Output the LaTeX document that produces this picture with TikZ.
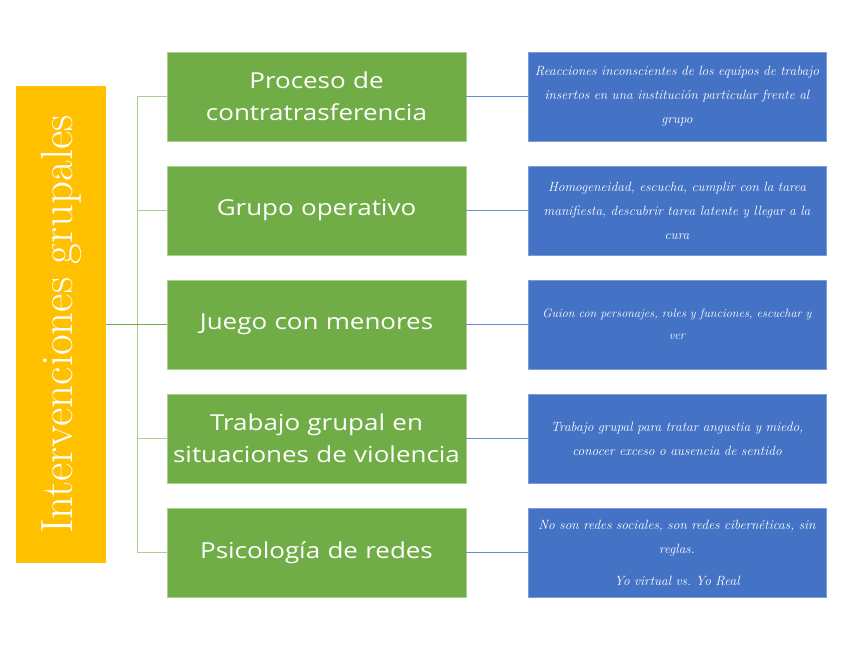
\documentclass[tikz,border=0pt]{standalone}
\usepackage{fontspec}
\newfontfamily\ramafont[FakeStretch=1.18]{Open Sans}
\definecolor{verdeRama}{HTML}{70AD47}
\definecolor{verdeLinea}{HTML}{A9D18E}
\definecolor{azulHoja}{HTML}{4472C4}
\definecolor{ambarRaiz}{HTML}{FFC000}

\begin{document}
\begin{tikzpicture}[x=1pt, y=-1pt,
		raiz/.style={fill=ambarRaiz, text=white, rotate=90, minimum width=477, minimum height=90, inner sep=0pt, font=\fontsize{45}{50}\selectfont},
		rama/.style={fill=verdeRama, draw=verdeLinea, line width=0.4pt, text=white, text width=295, minimum height=89, inner sep=2pt, align=center, font=\ramafont\fontsize{22}{32}\selectfont},
		hoja/.style={fill=azulHoja, draw=azulHoja!70!white, line width=0.4pt, text=white, text width=294, minimum height=89, inner sep=2pt, align=center, font=\itshape\fontsize{13.4}{24}\selectfont},
		enlace/.style={verdeLinea, line width=1pt},
		enlaceAzul/.style={azulHoja!80!white, line width=0.8pt}]
				\useasboundingbox (0,0) rectangle (848,655);
				
				\node[raiz] (interv) at (61,324.5) {Intervenciones grupales};
				
				\node[rama] (proceso) at (316.5,96.5) {Proceso de\\contratrasferencia};
				\node[rama] (operativo) at (316.5,210.5) {Grupo operativo};
				\node[rama] (juego) at (316.5,324.5) {Juego con menores};
				\node[rama] (violencia) at (316.5,438.5) {Trabajo grupal en\\situaciones de violencia};
				\node[rama] (redes) at (316.5,552.5) {Psicología de redes};
				
				\node[hoja] (reacciones) at (677,96.5) {Reacciones inconscientes de los equipos de trabajo\\insertos en una institución particular frente al\\grupo};
				\node[hoja] (homogeneidad) at (677,210.5) {Homogeneidad, escucha, cumplir con la tarea\\manifiesta, descubrir tarea latente y llegar a la\\cura};
				\node[hoja, font=\itshape\fontsize{12.2}{22}\selectfont] (guion) at (677,324.5) {Guion con personajes, roles y funciones, escuchar y\\ver};
				\node[hoja] (angustia) at (677,438.5) {Trabajo grupal para tratar angustia y miedo,\\conocer exceso o ausencia de sentido};
				\node[hoja] (cibernetica) at (677,552.5) {No son redes sociales, son redes cibernéticas, sin\\reglas.\\[8pt]Yo virtual vs.\ Yo Real};
				
				% tronco verde
				\coordinate (bus) at (137,324.5);
				\draw[verdeRama, line width=1pt] (interv.south) -- (bus);
				\draw[enlace] (bus |- proceso.west) -- (bus |- redes.west);
				\draw[enlace] (bus |- proceso.west) -- (proceso.west);
				\draw[enlace] (bus |- operativo.west) -- (operativo.west);
				\draw[verdeRama, line width=1pt] (bus) -- (juego.west);
				\draw[enlace] (bus |- violencia.west) -- (violencia.west);
				\draw[enlace] (bus |- redes.west) -- (redes.west);
				
				% ramas azules
				\draw[enlaceAzul] (proceso.east) -- (reacciones.west);
				\draw[enlaceAzul] (operativo.east) -- (homogeneidad.west);
				\draw[enlaceAzul] (juego.east) -- (guion.west);
				\draw[enlaceAzul] (violencia.east) -- (angustia.west);
				\draw[enlaceAzul] (redes.east) -- (cibernetica.west);
			\end{tikzpicture}
\end{document}
